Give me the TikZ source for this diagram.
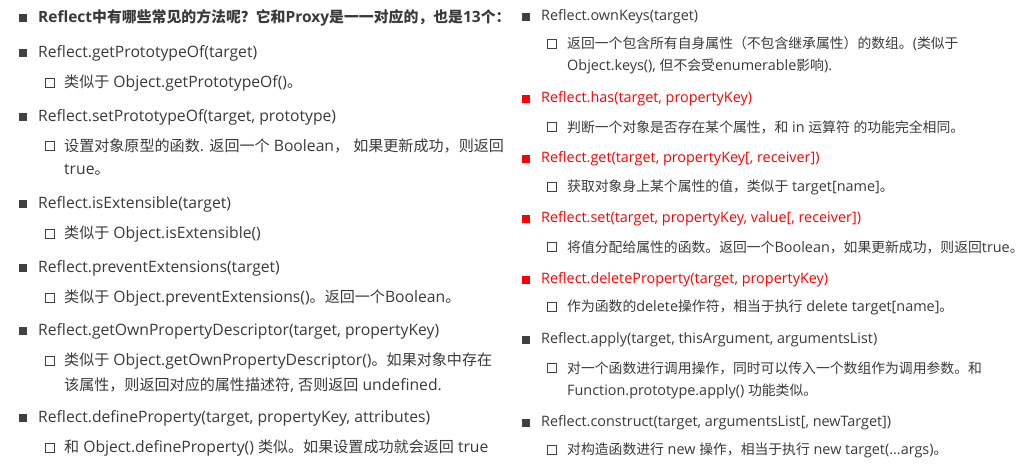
\documentclass[tikz,border=0pt]{standalone}
\usepackage{fontspec}
\setmainfont{Open Sans}
\newfontfamily\cjkf[Scale=0.96]{Noto Sans CJK SC}
\XeTeXinterchartokenstate=1
\newXeTeXintercharclass\CJKcls
\count255="4E00
\loop\XeTeXcharclass\count255=\CJKcls\ifnum\count255<"9FFF\advance\count255 by 1\repeat
\count255="3000
\loop\XeTeXcharclass\count255=\CJKcls\ifnum\count255<"303F\advance\count255 by 1\repeat
\count255="FF00
\loop\XeTeXcharclass\count255=\CJKcls\ifnum\count255<"FFEF\advance\count255 by 1\repeat
\XeTeXinterchartoks 0 \CJKcls = {\cjkf}
\XeTeXinterchartoks 4095 \CJKcls = {\cjkf}
\XeTeXinterchartoks \CJKcls 0 = {\rmfamily}
\XeTeXinterchartoks \CJKcls 4095 = {\rmfamily}
\definecolor{txtc}{HTML}{3A3A3A}
\definecolor{bulc}{HTML}{404040}
\definecolor{redc}{HTML}{FF0000}
\tikzset{
  txt/.style={anchor=west, inner sep=0pt, text=txtc, font=\fontsize{15.7}{18}\selectfont},
  rtxt/.style={txt, font=\fontsize{14.4}{18}\selectfont},
  redtxt/.style={rtxt, text=redc},
  ttl/.style={txt, font=\fontsize{15.5}{18}\selectfont\bfseries},
  fb/.style={fill=bulc, minimum size=8pt, inner sep=0pt},
  rb/.style={fill=redc, minimum size=8pt, inner sep=0pt},
  hb/.style={draw=bulc, line width=1.7pt, minimum size=9pt, inner sep=0pt},
}
\begin{document}
\begin{tikzpicture}[x=1pt,y=-1pt]
\useasboundingbox (0,0) rectangle (1024,473);
% ---------- left column ----------
\node[fb] (b0) at (23,18) {};
\node[ttl] (t0) at (38,18) {Reflect中有哪些常见的方法呢？它和Proxy是一一对应的，也是13个：};
\node[fb] (b1) at (23,53) {};
\node[txt] (t1) at (38,53) {Reflect.getPrototypeOf(target)};
\node[hb] (h1) at (50,83) {};
\node[txt] (s1) at (64,83) {类似于 Object.getPrototypeOf()。};
\node[fb] (b2) at (23,117) {};
\node[txt] (t2) at (38,117) {Reflect.setPrototypeOf(target, prototype)};
\node[hb] (h2) at (50,146) {};
\node[txt] (s2) at (64,146) {设置对象原型的函数. 返回一个 Boolean， 如果更新成功，则返回};
\node[txt] (s2b) at (64,170) {true。};
\node[fb] (b3) at (23,204) {};
\node[txt] (t3) at (38,204) {Reflect.isExtensible(target)};
\node[hb] (h3) at (50,234) {};
\node[txt] (s3) at (64,234) {类似于 Object.isExtensible()};
\node[fb] (b4) at (23,268) {};
\node[txt] (t4) at (38,268) {Reflect.preventExtensions(target)};
\node[hb] (h4) at (50,298) {};
\node[txt] (s4) at (64,298) {类似于 Object.preventExtensions()。返回一个Boolean。};
\node[fb] (b5) at (23,331) {};
\node[txt] (t5) at (38,331) {Reflect.getOwnPropertyDescriptor(target, propertyKey)};
\node[hb] (h5) at (50,361) {};
\node[txt] (s5) at (64,361) {类似于 Object.getOwnPropertyDescriptor()。如果对象中存在};
\node[txt] (s5b) at (64,385) {该属性，则返回对应的属性描述符, 否则返回 undefined.};
\node[fb] (b6) at (23,418) {};
\node[txt] (t6) at (38,418) {Reflect.defineProperty(target, propertyKey, attributes)};
\node[hb] (h6) at (50,448) {};
\node[txt] (s6) at (64,448) {和 Object.defineProperty() 类似。如果设置成功就会返回 true};
% ---------- right column ----------
\node[fb] (b7) at (526,17) {};
\node[rtxt] (t7) at (541,17) {Reflect.ownKeys(target)};
\node[hb] (h7) at (552,44) {};
\node[rtxt] (s7) at (567,44) {返回一个包含所有自身属性（不包含继承属性）的数组。(类似于};
\node[rtxt] (s7b) at (567,66) {Object.keys(), 但不会受enumerable影响).};
\node[rb] (b8) at (526,99) {};
\node[redtxt] (t8) at (541,99) {Reflect.has(target, propertyKey)};
\node[hb] (h8) at (552,127) {};
\node[rtxt] (s8) at (567,127) {判断一个对象是否存在某个属性，和 in 运算符 的功能完全相同。};
\node[rb] (b9) at (526,159) {};
\node[redtxt] (t9) at (541,159) {Reflect.get(target, propertyKey[, receiver])};
\node[hb] (h9) at (552,187) {};
\node[rtxt] (s9) at (567,187) {获取对象身上某个属性的值，类似于 target[name]。};
\node[rb] (b10) at (526,219) {};
\node[redtxt] (t10) at (541,219) {Reflect.set(target, propertyKey, value[, receiver])};
\node[hb] (h10) at (552,247) {};
\node[rtxt] (s10) at (567,247) {将值分配给属性的函数。返回一个Boolean，如果更新成功，则返回true。};
\node[rb] (b11) at (526,280) {};
\node[redtxt] (t11) at (541,280) {Reflect.deleteProperty(target, propertyKey)};
\node[hb] (h11) at (552,307) {};
\node[rtxt] (s11) at (567,307) {作为函数的delete操作符，相当于执行 delete target[name]。};
\node[fb] (b12) at (526,340) {};
\node[rtxt] (t12) at (541,340) {Reflect.apply(target, thisArgument, argumentsList)};
\node[hb] (h12) at (552,368) {};
\node[rtxt] (s12) at (567,368) {对一个函数进行调用操作，同时可以传入一个数组作为调用参数。和};
\node[rtxt] (s12b) at (567,391) {Function.prototype.apply() 功能类似。};
\node[fb] (b13) at (526,423) {};
\node[rtxt] (t13) at (541,423) {Reflect.construct(target, argumentsList[, newTarget])};
\node[hb] (h13) at (552,450) {};
\node[rtxt] (s13) at (567,450) {对构造函数进行 new 操作，相当于执行 new target(...args)。};
\end{tikzpicture}
\end{document}
